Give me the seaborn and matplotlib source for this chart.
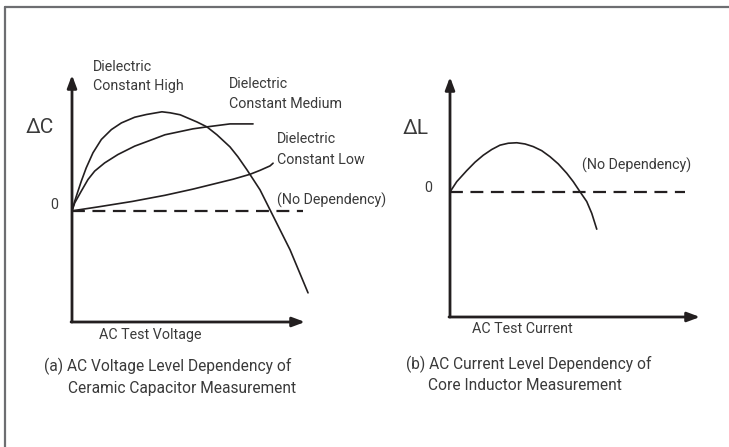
import matplotlib
matplotlib.use("Agg")
import matplotlib.pyplot as plt
from matplotlib.lines import Line2D
import pandas as pd
import seaborn as sns

# (a) AC voltage dependency of ceramic capacitors (relative units, 0 = no change)
volt_high = [0, 1.16, 2.58, 3.99, 6.1, 9.0, 12.6, 16.9, 21.2, 26.9, 31.9, 38.6, 42.1, 46.4,
             53.6, 57.9, 62.2, 67.8, 71.2, 75.1, 80.7, 85.0, 89.3, 93.6, 101.3]
dc_high = [0, 3.9, 8.0, 12.0, 17.4, 23.5, 28.9, 32.9, 35.6, 37.9, 39.0, 40.1, 39.7, 38.9,
           36.0, 34.0, 30.8, 25.9, 21.9, 16.6, 8.5, 0.4, -7.7, -15.8, -33.2]
volt_med = [0, 1.16, 3.99, 6.87, 9.74, 14.0, 19.7, 26.9, 32.6, 39.9, 51.9, 57.9, 67.8, 77.7]
dc_med = [0, 3.2, 8.0, 12.7, 16.1, 19.4, 22.8, 26.2, 28.2, 30.8, 33.2, 34.0, 35.2, 35.2]
volt_low = [0, 11.2, 25.8, 39.9, 51.9, 60.5, 69.1, 76.4, 80.7, 85.0, 86.3]
dc_low = [0, 1.6, 3.8, 6.3, 8.8, 10.8, 12.8, 14.8, 16.4, 18.2, 19.3]

# (b) AC current dependency of core inductors
curr = [0, 2.7, 6.7, 10.0, 13.3, 16.7, 20.0, 23.3, 26.7, 30.0, 33.3, 36.7, 40.0, 43.3,
        46.7, 49.3, 52.0, 54.7, 56.7, 58.7]
dl = [0, 4.3, 8.9, 12.4, 15.3, 17.7, 19.5, 20.3, 20.5, 20.0, 18.9, 17.2, 14.7, 11.7,
      7.8, 4.3, 0.1, -4.0, -8.9, -15.5]

W, H = 729, 447
INK = "#231f20"
TXT = "#3a3a3a"

sns.set_style("white")
plt.rcParams["font.family"] = ["Roboto", "DejaVu Sans"]

fig = plt.figure(figsize=(W / 100, H / 100), dpi=100)


def px_axes(x0, y_top, x1, y_bot):
    return fig.add_axes([x0 / W, 1 - y_bot / H, (x1 - x0) / W, (y_bot - y_top) / H])


def txt(x, y, s, size=10.3, ha="left"):
    fig.text(x / W, 1 - y / H, s, fontsize=size, color=TXT, ha=ha, va="center")


def draw_axes(ax):
    ax.set_axis_off()
    arrow = dict(arrowstyle="-|>,head_length=0.75,head_width=0.28", lw=2, color=INK,
                 shrinkA=0, shrinkB=0)
    ax.annotate("", xy=(0, 1), xytext=(0, 0), xycoords="axes fraction", arrowprops=arrow)
    ax.annotate("", xy=(1, 0), xytext=(-0.004, 0), xycoords="axes fraction", arrowprops=arrow)


def curve(ax, xs, ys):
    df = pd.DataFrame({"x": xs, "y": ys})
    sns.lineplot(data=df, x="x", y="y", sort=False, estimator=None, color=INK, lw=1.2,
                 ax=ax, clip_on=False, solid_joinstyle="round")


# left panel
ax1 = px_axes(72, 75, 305, 322)
ax1.set_xlim(0, 100)
ax1.set_ylim(-45, 55)
draw_axes(ax1)
ax1.plot([0, 99], [0, 0], color=INK, lw=1.6, dashes=(5.8, 3.4))
curve(ax1, volt_high, dc_high)
curve(ax1, volt_med, dc_med)
curve(ax1, volt_low, dc_low)

# right panel
ax2 = px_axes(450, 77, 700, 317)
ax2.set_xlim(0, 100)
ax2.set_ylim(-52.1, 47.9)
draw_axes(ax2)
ax2.plot([0, 94], [0, 0], color=INK, lw=1.6, dashes=(5.8, 3.4))
curve(ax2, curr, dl)

# texts, left
txt(93, 67, "Dielectric")
txt(93, 86, "Constant High")
txt(229, 84, "Dielectric")
txt(229, 104, "Constant Medium")
txt(277, 139, "Dielectric")
txt(277, 160, "Constant Low")
txt(277, 200, "(No Dependency)")
txt(26, 127, "\u0394C", size=15)
txt(54, 205, "0", ha="center")
txt(99, 335, "AC Test Voltage")
txt(44, 366, "(a) AC Voltage Level Dependency of", size=11.2)
txt(68, 388, "Ceramic Capacitor Measurement", size=11.2)

# texts, right
txt(403, 128, "\u0394L", size=15)
txt(582, 165, "(No Dependency)")
txt(428, 188, "0", ha="center")
txt(472, 329, "AC Test Current")
txt(406, 364, "(b) AC Current Level Dependency of", size=11.2)
txt(428, 386, "Core Inductor Measurement", size=11.2)

# frame lines (top and left only)
fig.add_artist(Line2D([4.5 / W, 1], [1 - 6.5 / H, 1 - 6.5 / H], color="#6d6e71", lw=1.6))
fig.add_artist(Line2D([4.5 / W, 4.5 / W], [0, 1 - 6.5 / H], color="#6d6e71", lw=1.6))

fig.savefig("out.png", dpi=100)
